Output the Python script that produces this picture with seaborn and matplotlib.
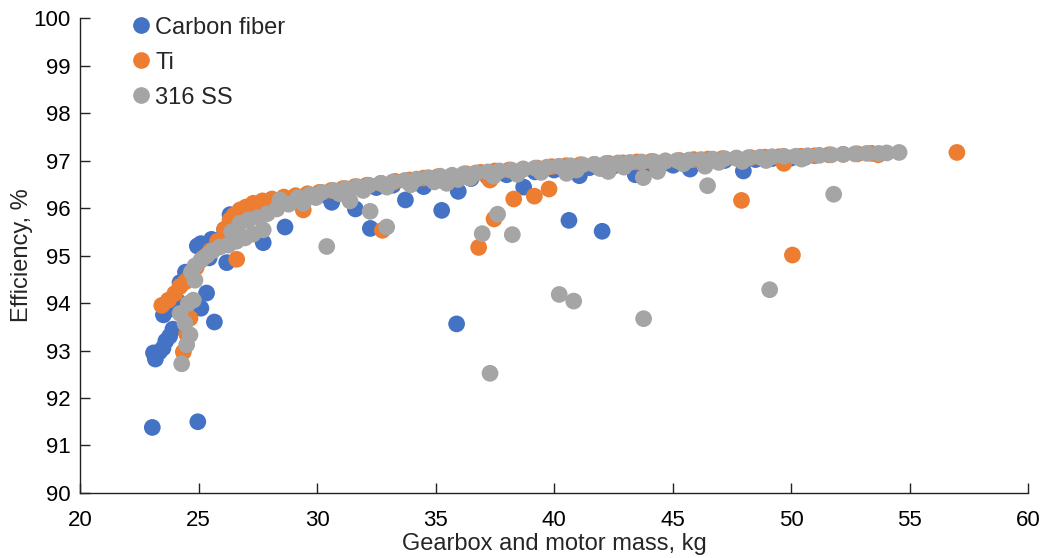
import matplotlib
matplotlib.use("Agg")
import matplotlib.pyplot as plt
import seaborn as sns
import pandas as pd

# Gearbox + motor mass (kg) vs. efficiency (%) for three housing materials
cf_mass = [23.05, 24.97, 23.10, 23.18, 23.35, 23.50, 23.62, 23.78, 23.92, 23.52,
           23.70, 24.10, 24.22, 24.45, 25.10, 25.34, 25.67, 24.95, 25.10, 25.55,
           25.85, 26.19, 25.45, 26.33, 26.10, 27.73, 28.65, 27.00, 27.60, 28.20,
           29.00, 29.60, 30.20, 30.62, 31.00, 31.62, 32.25, 32.50, 33.20, 33.73,
           34.20, 34.50, 35.26, 35.96, 35.89, 36.50, 37.20, 38.00, 38.72, 39.20,
           40.00, 40.63, 41.07, 41.50, 42.03, 42.50, 43.43, 44.00, 44.80, 45.03,
           45.74, 46.50, 47.20, 47.99, 48.50, 49.20, 50.00, 50.60]
cf_eff = [91.38, 91.50, 92.95, 92.82, 92.97, 93.05, 93.20, 93.30, 93.45, 93.75,
          93.85, 94.05, 94.43, 94.65, 93.89, 94.21, 93.60, 95.20, 95.25, 95.34,
          95.32, 94.85, 94.95, 95.86, 95.55, 95.27, 95.60, 95.92, 96.02, 96.10,
          96.18, 96.25, 96.28, 96.12, 96.36, 95.98, 95.57, 96.43, 96.48, 96.17,
          96.53, 96.45, 95.95, 96.35, 93.56, 96.62, 96.66, 96.70, 96.44, 96.76,
          96.80, 95.74, 96.68, 96.85, 95.51, 96.88, 96.70, 96.93, 96.95, 96.90,
          96.82, 96.99, 97.00, 96.78, 97.02, 97.04, 97.05, 97.07]

ti_mass = [23.45, 23.73, 24.00, 24.36, 24.50, 24.64, 24.22, 24.64, 24.45, 24.90,
           25.20, 25.50, 25.80, 26.10, 26.61, 26.33, 26.50, 26.75, 27.00, 27.31,
           27.70, 28.10, 28.60, 29.10, 29.42, 29.60, 30.10, 30.60, 31.10, 31.60,
           32.10, 32.76, 32.70, 33.30, 33.90, 34.50, 35.10, 35.70, 36.30, 36.82,
           36.90, 37.30, 37.47, 37.50, 38.10, 38.30, 38.70, 39.17, 39.30, 39.79,
           39.90, 40.50, 41.10, 41.70, 42.30, 42.90, 43.50, 44.10, 44.70, 45.30,
           45.90, 46.50, 47.10, 47.70, 47.91, 48.30, 48.90, 49.50, 49.70, 50.06,
           50.40, 51.00, 51.60, 52.20, 52.80, 53.40, 53.68, 57.00]
ti_eff = [93.95, 94.06, 94.20, 92.97, 93.35, 93.68, 94.35, 94.56, 94.45, 94.75,
          94.95, 95.10, 95.30, 95.55, 94.92, 95.75, 95.85, 95.96, 96.02, 96.10,
          96.15, 96.19, 96.23, 96.26, 95.96, 96.30, 96.33, 96.37, 96.41, 96.45,
          96.48, 95.53, 96.52, 96.56, 96.59, 96.63, 96.66, 96.60, 96.72, 95.17,
          96.75, 96.59, 95.77, 96.78, 96.80, 96.19, 96.82, 96.25, 96.84, 96.40,
          96.87, 96.89, 96.91, 96.92, 96.94, 96.95, 96.97, 96.98, 96.99, 97.00,
          97.02, 97.03, 97.04, 97.05, 96.16, 97.06, 97.07, 97.08, 96.94, 95.01,
          97.09, 97.10, 97.12, 97.13, 97.14, 97.15, 97.12, 97.17]

ss_mass = [24.29, 24.50, 24.64, 24.43, 24.22, 24.57, 24.78, 24.85, 24.85, 24.70,
           25.10, 25.35, 25.60, 25.90, 26.26, 26.60, 26.96, 27.30, 27.73, 26.40,
           26.75, 27.10, 27.50, 27.90, 28.30, 28.44, 28.80, 29.42, 29.20, 29.70,
           30.20, 30.41, 30.70, 31.20, 31.39, 31.70, 32.24, 32.20, 32.70, 32.94,
           33.20, 33.70, 34.20, 34.70, 35.20, 35.47, 35.70, 36.20, 36.70, 36.97,
           37.20, 37.30, 37.62, 37.70, 38.20, 38.24, 38.70, 39.20, 39.70, 40.20,
           40.22, 40.53, 40.70, 40.83, 41.20, 41.70, 42.20, 42.29, 42.70, 43.20,
           43.70, 43.77, 43.78, 44.20, 44.37, 44.70, 45.20, 45.70, 46.20, 46.37,
           46.48, 46.70, 47.20, 47.70, 48.20, 48.70, 49.10, 49.20, 49.70, 50.20,
           50.70, 51.20, 51.70, 51.80, 52.20, 52.70, 53.20, 53.70, 54.04, 54.56,
           29.95, 30.95, 31.95, 32.95, 33.95, 34.95, 35.95, 36.45, 37.45, 38.45,
           39.45, 40.95, 41.95, 42.95, 44.45, 45.45, 46.95, 47.95, 48.95, 50.45]
ss_eff = [92.72, 93.12, 93.33, 93.57, 93.78, 93.99, 94.06, 94.48, 94.78, 94.65,
          94.90, 95.00, 95.10, 95.18, 95.22, 95.30, 95.37, 95.45, 95.54, 95.50,
          95.68, 95.75, 95.80, 95.88, 95.98, 96.17, 96.08, 96.10, 96.22, 96.28,
          96.33, 95.19, 96.37, 96.41, 96.15, 96.45, 95.93, 96.48, 96.52, 95.60,
          96.55, 96.58, 96.61, 96.64, 96.67, 96.52, 96.69, 96.72, 96.74, 95.46,
          96.76, 92.52, 95.87, 96.78, 96.80, 95.44, 96.82, 96.84, 96.86, 96.88,
          94.18, 96.73, 96.89, 94.04, 96.91, 96.92, 96.94, 96.77, 96.95, 96.96,
          96.97, 96.64, 93.67, 96.98, 96.77, 96.99, 97.00, 97.01, 97.02, 96.88,
          96.47, 97.03, 97.04, 97.05, 97.06, 97.07, 94.28, 97.08, 97.09, 97.09,
          97.10, 97.11, 97.12, 96.29, 97.13, 97.14, 97.15, 97.15, 97.16, 97.17,
          96.22, 96.30, 96.37, 96.44, 96.49, 96.55, 96.60, 96.63, 96.67, 96.71,
          96.75, 96.80, 96.83, 96.86, 96.90, 96.93, 96.96, 96.98, 97.00, 97.03]

materials = ["Carbon fiber", "Ti", "316 SS"]
colors = ["#4472C4", "#ED7D31", "#A5A5A5"]

x_ticks = [20, 25, 30, 35, 40, 45, 50, 55, 60]
y_ticks = [90, 91, 92, 93, 94, 95, 96, 97, 98, 99, 100]

df = pd.concat([
    pd.DataFrame({"mass": cf_mass, "eff": cf_eff, "material": materials[0]}),
    pd.DataFrame({"mass": ti_mass, "eff": ti_eff, "material": materials[1]}),
    pd.DataFrame({"mass": ss_mass, "eff": ss_eff, "material": materials[2]}),
], ignore_index=True)

sns.set_theme(style="ticks")
plt.rcParams["font.family"] = ["Liberation Sans", "DejaVu Sans"]

fig = plt.figure(figsize=(10.46, 5.58), dpi=100)
ax = fig.add_axes([0.0765, 0.1165, 0.9063, 0.8512])

sns.scatterplot(data=df, x="mass", y="eff", hue="material",
                hue_order=materials, palette=colors, s=145, linewidth=0,
                alpha=1.0, ax=ax)

ax.set_xlim(20, 60)
ax.set_ylim(90, 100)
ax.set_xticks(x_ticks)
ax.set_yticks(y_ticks)
ax.tick_params(axis="both", direction="in", length=7, width=1.0,
               colors="#222222", labelsize=16, labelcolor="black")
ax.tick_params(axis="x", pad=12)
ax.tick_params(axis="y", pad=7)

for side in ("top", "right"):
    ax.spines[side].set_visible(False)
for side in ("left", "bottom"):
    ax.spines[side].set_linewidth(1.0)
    ax.spines[side].set_color("#222222")

ax.set_xlabel("Gearbox and motor mass, kg", fontsize=17)
ax.set_ylabel("Efficiency, %", fontsize=17)
ax.xaxis.set_label_coords(0.5, -0.085)
ax.yaxis.set_label_coords(-0.05, 0.5)

handles, labels = ax.get_legend_handles_labels()
ax.get_legend().remove()
fig.legend(handles, labels, loc="upper left",
           bbox_to_anchor=(0.128, 0.970), frameon=False,
           fontsize=17, handlelength=0.6, handletextpad=0.3,
           labelspacing=0.55, borderpad=0, borderaxespad=0,
           markerscale=1.0)

fig.savefig("out.png", dpi=100)
